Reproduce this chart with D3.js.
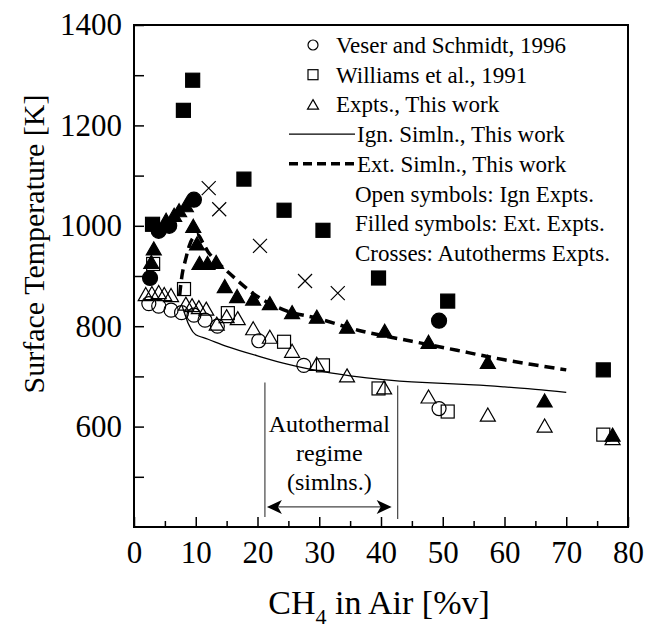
<!DOCTYPE html>
<html lang="en">
<head>
<meta charset="utf-8">
<title>Surface Temperature vs CH4</title>
<script src="https://cdn.jsdelivr.net/npm/d3@7"></script>
<style>
  body { margin: 0; background: #fff; }
  svg text { font-family: "Liberation Serif", "Times New Roman", serif; fill: #000; }
</style>
</head>
<body>
<script>
// data: [CH4 %v, T in K]
var veserIgn = [[2.4,845],[4,840],[6,832],[7.7,827],[9.7,822],[11.5,812],[13.5,800],[20.2,771],[27.5,722],[49.4,636]];
var veserExt = [[2.6,896],[4,990],[5.7,1000],[9.7,1052],[49.4,811]];
var williamsIgn = [[3.1,924],[8.1,874],[15.2,826],[24.3,769],[30.6,722],[39.6,676],[50.8,630],[76,584]];
var williamsExt = [[3,1003],[8,1230],[9.5,1290],[17.8,1093],[24.3,1031],[30.6,991],[39.6,896],[50.8,850],[76,713]];
var thisIgn = [[1.9,864],[2.9,866],[4,868],[4.9,864],[6,862],[8.4,845],[9.4,842],[10.5,838],[11.7,835],
               [13.4,805],[15,820],[16.8,816],[19.3,796],[22,779],[25.6,751],[29.6,725],[34.5,702],
               [40.5,678],[47.7,660],[57.3,624],[66.5,602],[77.5,577]];
var thisExt = [[2.8,928],[3.2,955],[5.2,1012],[6.5,1022],[7.3,1031],[8.4,1041],[9.6,1000],[10.2,965],
               [10.6,926],[11.9,926],[13.3,928],[14.7,880],[16.7,860],[19.3,855],[22,846],[25.6,828],
               [29.6,819],[34.5,799],[40.6,791],[47.7,769],[57.3,729],[66.5,652],[77.5,584]];
var autotherms = [[12.1,1075],[13.8,1033],[20.4,960],[27.7,890],[33,866]];
var ignSim = [[7.8,840],[8.3,822],[9,800],[10,783],[12,774],[15,760],[20,741],[25,724],[30,711],[35,701],
              [40,694],[45,689],[50,686],[55,683],[60,679],[65,674],[70,668]];
var extSim = [[7.4,862],[7.6,885],[7.9,910],[8.4,935],[8.9,958],[9.5,975],[10.3,982],[11.2,965],[12,948],
              [13.1,932],[15.5,905],[17.8,880],[20.4,856],[24.8,830],[29.6,816],[36.6,791],[45,770],
              [52.3,752],[60,733],[70,713]];
var xTicks = [0,10,20,30,40,50,60,70,80];
var yTicks = [600,800,1000,1200,1400];
var autoRegime = [21.2, 42.7];
var legendRows = ["Veser and Schmidt, 1996","Williams et al., 1991","Expts., This work",
                  "Ign. Simln., This work","Ext. Simln., This work","Open symbols: Ign Expts.",
                  "Filled symbols: Ext. Expts.","Crosses: Autotherms Expts."];

var W = 654, H = 628;
var margin = {top: 25, right: 26, bottom: 101, left: 134};
var width = W - margin.left - margin.right,
    height = H - margin.top - margin.bottom;
var serif = "Liberation Serif, Times New Roman, serif";

var svg = d3.select("body").append("svg")
    .attr("width", W).attr("height", H);
var g = svg.append("g")
    .attr("transform", "translate(" + margin.left + "," + margin.top + ")");

var xScale = d3.scaleLinear().domain([0, 80]).range([0, width]);
var yScale = d3.scaleLinear().domain([400, 1400]).range([height, 0]);

// axes, ticks inward
var xAxis = d3.axisBottom(xScale).tickValues(xTicks).tickSize(-10).tickPadding(14).tickFormat(d3.format("d"));
var xMinor = d3.axisBottom(xScale).tickValues(d3.range(5, 80, 10)).tickSize(-6).tickFormat("");
var yAxis = d3.axisLeft(yScale).tickValues(yTicks).tickSize(-10).tickPadding(12).tickFormat(d3.format("d"));
var yMinor = d3.axisLeft(yScale).tickValues(d3.range(500, 1400, 200)).tickSize(-10).tickFormat("");

function styleAxis(sel) {
  sel.attr("font-family", serif).attr("font-size", 31);
  sel.select(".domain").remove();
  sel.selectAll("line").attr("stroke", "#000").attr("stroke-width", 1.5);
  sel.selectAll("text").style("font-size", "31px").style("font-family", serif);
}
g.append("g").attr("transform", "translate(0," + height + ")").call(xAxis).call(styleAxis);
g.append("g").attr("transform", "translate(0," + height + ")").call(xMinor).call(styleAxis);
g.append("g").call(yAxis).call(styleAxis);
g.append("g").call(yMinor).call(styleAxis);

g.append("rect").attr("width", width).attr("height", height)
  .attr("fill", "none").attr("stroke", "#000").attr("stroke-width", 2);

// axis titles
svg.append("text")
  .attr("text-anchor", "middle")
  .attr("transform", "translate(" + 33 + "," + 244 + ") rotate(-90)")
  .attr("dy", "0.35em")
  .style("font-size", "30px")
  .text("Surface Temperature [K]");

var xt = svg.append("text")
  .attr("text-anchor", "middle")
  .attr("x", margin.left + width / 2 - 2)
  .attr("y", 614)
  .style("font-size", "34px");
xt.append("tspan").text("CH");
xt.append("tspan").attr("dy", 10).style("font-size", "22px").text("4");
xt.append("tspan").attr("dy", -10).text(" in Air [%v]");

// autothermal regime annotation
var ann = g.append("g");
ann.append("line").attr("x1", xScale(autoRegime[0])).attr("x2", xScale(autoRegime[0]))
  .attr("y1", yScale(688)).attr("y2", yScale(420));
ann.append("line").attr("x1", xScale(autoRegime[1])).attr("x2", xScale(autoRegime[1]))
  .attr("y1", yScale(682)).attr("y2", yScale(416));
ann.selectAll("line").attr("stroke", "#444").attr("stroke-width", 1.2);
var ay = yScale(440);
ann.append("line").attr("x1", xScale(autoRegime[0]) + 4).attr("x2", xScale(autoRegime[1]) - 8)
  .attr("y1", ay).attr("y2", ay).attr("stroke", "#444").attr("stroke-width", 1.2);
function arrowHead(x, dir) {
  return "M" + x + "," + ay + " l" + (-dir * 15) + ",-7 l" + (dir * 4) + ",7 l" + (-dir * 4) + ",7 Z";
}
ann.append("path").attr("d", arrowHead(xScale(autoRegime[0]) + 2, -1)).attr("fill", "#000");
ann.append("path").attr("d", arrowHead(xScale(autoRegime[1]) - 6, 1)).attr("fill", "#000");
var annX = (xScale(autoRegime[0]) + xScale(autoRegime[1])) / 2 - 2;
["Autothermal", "regime", "(simlns.)"].forEach(function(t, i) {
  ann.append("text").attr("x", annX).attr("y", yScale(400) - 95 + i * 29)
    .attr("text-anchor", "middle").style("font-size", "24px").text(t);
});

// simulation lines
var line = d3.line().x(function(d) { return xScale(d[0]); }).y(function(d) { return yScale(d[1]); });
g.append("path").datum(ignSim).attr("d", line.curve(d3.curveMonotoneY))
  .attr("fill", "none").attr("stroke", "#000").attr("stroke-width", 1.3);
g.append("path").datum(extSim).attr("d", line.curve(d3.curveCatmullRom))
  .attr("fill", "none").attr("stroke", "#000").attr("stroke-width", 3.5).attr("stroke-dasharray", "10,6");

// symbols
function tri(cx, cy, s) {
  var h = s * 0.87;
  return "M" + cx + "," + (cy - h / 2) + " L" + (cx + s / 2) + "," + (cy + h / 2) + " L" + (cx - s / 2) + "," + (cy + h / 2) + " Z";
}
function drawCircles(data, filled, r) {
  g.append("g").selectAll("circle").data(data).enter().append("circle")
    .attr("cx", function(d) { return xScale(d[0]); })
    .attr("cy", function(d) { return yScale(d[1]); })
    .attr("r", r)
    .attr("fill", filled ? "#000" : "none").attr("stroke", "#000").attr("stroke-width", 1.2);
}
function drawSquares(data, filled, s) {
  g.append("g").selectAll("rect").data(data).enter().append("rect")
    .attr("x", function(d) { return xScale(d[0]) - s / 2; })
    .attr("y", function(d) { return yScale(d[1]) - s / 2; })
    .attr("width", s).attr("height", s)
    .attr("fill", filled ? "#000" : "none").attr("stroke", "#000").attr("stroke-width", 1.2);
}
function drawTriangles(data, filled, s) {
  g.append("g").selectAll("path").data(data).enter().append("path")
    .attr("d", function(d) { return tri(xScale(d[0]), yScale(d[1]), s); })
    .attr("fill", filled ? "#000" : "none").attr("stroke", "#000").attr("stroke-width", 1.2);
}
drawCircles(veserIgn, false, 7);
drawSquares(williamsIgn, false, 13);
drawTriangles(thisIgn, false, 15);
drawSquares(williamsExt, true, 14);
drawCircles(veserExt, true, 7.5);
drawTriangles(thisExt, true, 15);
g.append("g").selectAll("path").data(autotherms).enter().append("path")
  .attr("d", function(d) {
    var x = xScale(d[0]), y = yScale(d[1]), s = 7;
    return "M" + (x - s) + "," + (y - s) + "L" + (x + s) + "," + (y + s) + "M" + (x - s) + "," + (y + s) + "L" + (x + s) + "," + (y - s);
  })
  .attr("stroke", "#000").attr("stroke-width", 1.2).attr("fill", "none");

// legend
var leg = svg.append("g");
var rowY = function(i) { return 45 + i * 29.7; };
leg.selectAll("text").data(legendRows).enter().append("text")
  .attr("x", function(d, i) { return i < 3 ? 336 : (i < 5 ? 357 : 355); })
  .attr("y", function(d, i) { return rowY(i); })
  .attr("dy", "0.35em")
  .style("font-size", "23px")
  .text(function(d) { return d; });
leg.append("circle").attr("cx", 313).attr("cy", rowY(0)).attr("r", 5)
  .attr("fill", "none").attr("stroke", "#000").attr("stroke-width", 1.2);
leg.append("rect").attr("x", 308).attr("y", rowY(1) - 5).attr("width", 10).attr("height", 10)
  .attr("fill", "none").attr("stroke", "#000").attr("stroke-width", 1.2);
leg.append("path").attr("d", tri(313, rowY(2), 11))
  .attr("fill", "none").attr("stroke", "#000").attr("stroke-width", 1.2);
leg.append("line").attr("x1", 289).attr("x2", 355).attr("y1", rowY(3)).attr("y2", rowY(3))
  .attr("stroke", "#000").attr("stroke-width", 1.3);
leg.append("line").attr("x1", 289).attr("x2", 355).attr("y1", rowY(4)).attr("y2", rowY(4))
  .attr("stroke", "#000").attr("stroke-width", 3.5).attr("stroke-dasharray", "9,5");
</script>
</body>
</html>
